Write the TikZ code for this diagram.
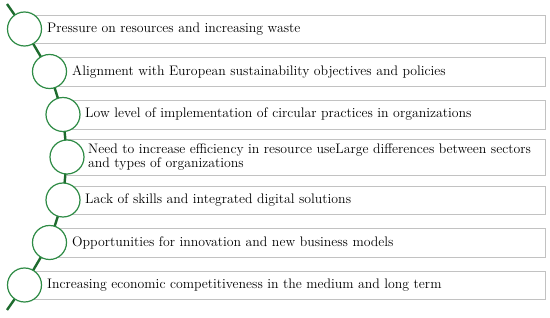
\documentclass[tikz,border=0pt]{standalone}
\usepackage{tikz}
\definecolor{lineg}{HTML}{1E6B2E}
\definecolor{circg}{HTML}{2E8B45}
\definecolor{boxg}{HTML}{C2C2C2}
\begin{document}
\begin{tikzpicture}[x=1pt,y=-1pt,
  boxstyle/.style={draw=boxg, line width=1.4pt, rectangle, anchor=north west, inner sep=0pt},
  ring/.style={circle, draw=circg, fill=white, line width=1.2pt, minimum size=34pt, inner sep=0pt},
  spine/.style={draw=lineg, line width=2.4pt},
  lbl/.style={anchor=west, inner sep=0pt, font=\fontsize{13.8}{12.5}\selectfont, align=left}]
\useasboundingbox (0,0) rectangle (550,318);
\coordinate (s) at (7,4);
\coordinate (p1) at (24.5,29);
\coordinate (p2) at (49.5,71.5);
\coordinate (p3) at (63,114.5);
\coordinate (p4) at (67,157);
\coordinate (p5) at (63,200);
\coordinate (p6) at (49.5,242.5);
\coordinate (p7) at (24.5,285);
\coordinate (e) at (7,310);
\draw[spine] (s) -- (p1) -- (p2) -- (p3) -- (p4) -- (p5) -- (p6) -- (p7) -- (e);
\node (b1) [boxstyle, minimum width=520.5pt, minimum height=28pt] at (24.5,15) {};
\node (b2) [boxstyle, minimum width=495.5pt, minimum height=29pt] at (49.5,57) {};
\node (b3) [boxstyle, minimum width=482pt, minimum height=29pt] at (63,100) {};
\node (b4) [boxstyle, minimum width=478pt, minimum height=36pt] at (67,139) {};
\node (b5) [boxstyle, minimum width=482pt, minimum height=28pt] at (63,186) {};
\node (b6) [boxstyle, minimum width=495.5pt, minimum height=29pt] at (49.5,228) {};
\node (b7) [boxstyle, minimum width=520.5pt, minimum height=28pt] at (24.5,271) {};
\node (c1) [ring] at (p1) {};
\node (c2) [ring] at (p2) {};
\node (c3) [ring] at (p3) {};
\node (c4) [ring] at (p4) {};
\node (c5) [ring] at (p5) {};
\node (c6) [ring] at (p6) {};
\node (c7) [ring] at (p7) {};
\node (t1) [lbl] at (47,29) {Pressure on resources and increasing waste};
\node (t2) [lbl] at (72,71.5) {Alignment with European sustainability objectives and policies};
\node (t3) [lbl] at (85,114.5) {Low level of implementation of circular practices in organizations};
\node (t4) [lbl] at (88,157) {Need to increase efficiency in resource useLarge differences between sectors\\and types of organizations};
\node (t5) [lbl] at (85,200) {Lack of skills and integrated digital solutions};
\node (t6) [lbl] at (72,242.5) {Opportunities for innovation and new business models};
\node (t7) [lbl] at (47,285) {Increasing economic competitiveness in the medium and long term};
\end{tikzpicture}
\end{document}
